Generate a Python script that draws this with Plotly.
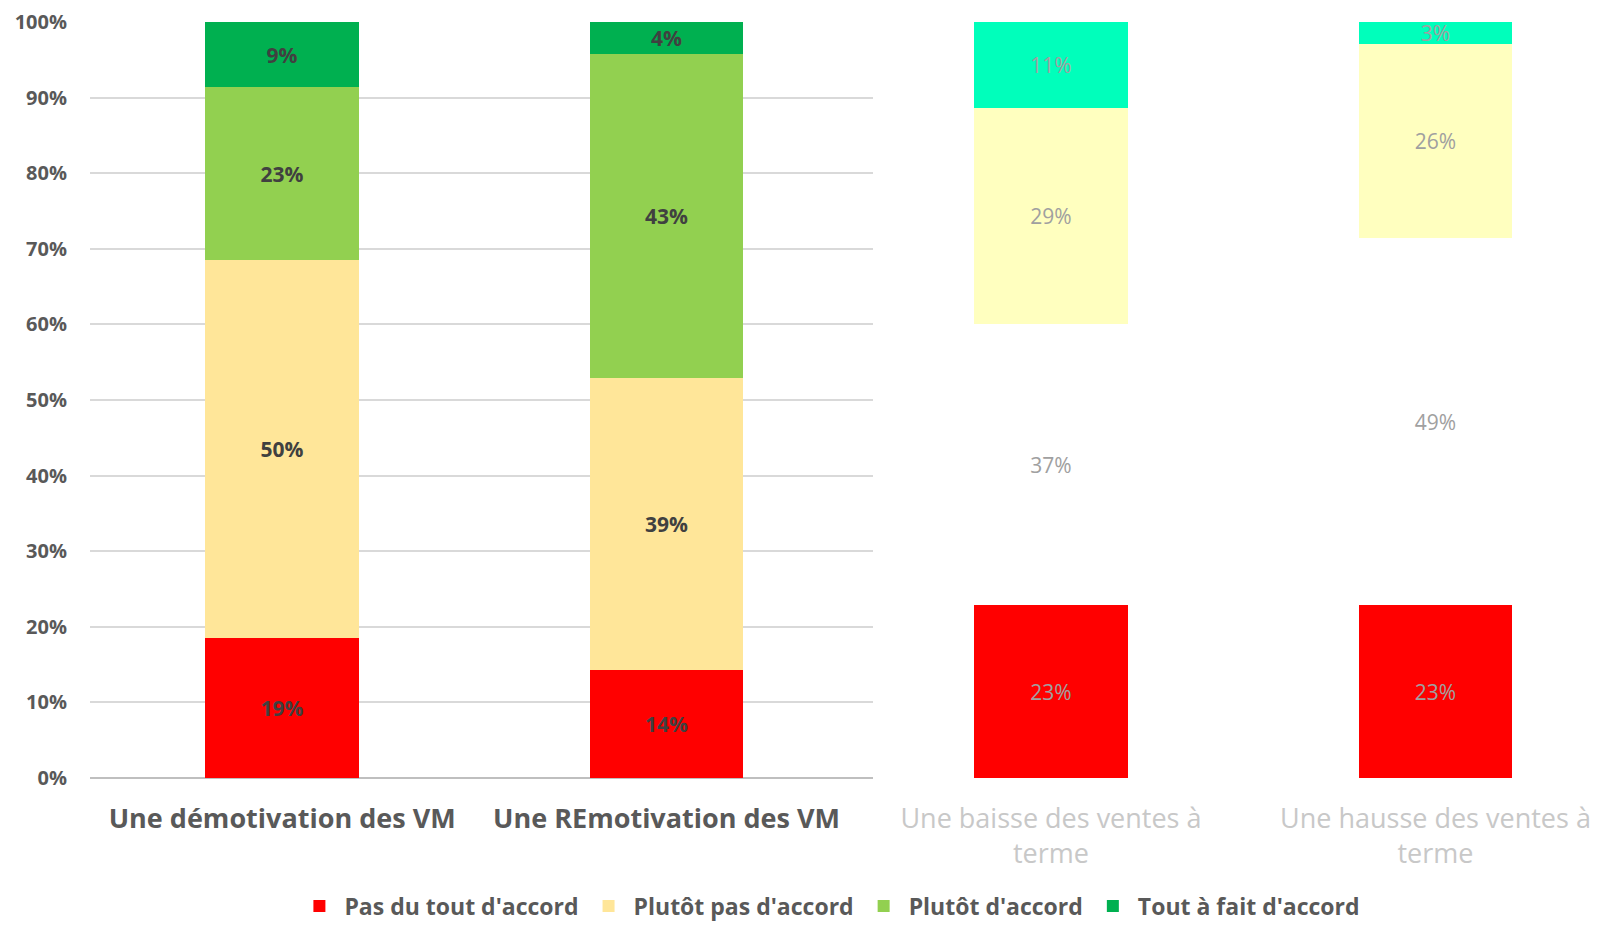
import plotly.graph_objects as go

# values (percent of respondents)
categories = ["Une démotivation des VM", "Une REmotivation des VM",
              "Une baisse des ventes à<br>terme", "Une hausse des ventes à<br>terme"]
series = ["Pas du tout d'accord", "Plutôt pas d'accord", "Plutôt d'accord", "Tout à fait d'accord"]
pas_du_tout = [18.57, 14.29, 22.86, 22.86]
plutot_pas = [50.0, 38.57, 37.14, 48.57]
plutot = [22.86, 42.86, 28.57, 25.71]
tout_a_fait = [8.57, 4.29, 11.43, 2.86]
y_ticks = [0, 10, 20, 30, 40, 50, 60, 70, 80, 90, 100]
y_tick_labels = ["0%", "10%", "20%", "30%", "40%", "50%", "60%", "70%", "80%", "90%", "100%"]

colors_left = ["#FF0000", "#FFE699", "#92D050", "#00B050"]
colors_right = ["#FF0000", "#FFFFFF", "#FFFFBF", "#00FFBB"]

FONT = "Open Sans"
values = [pas_du_tout, plutot_pas, plutot, tout_a_fait]
x_pos = list(range(len(categories)))

fig = go.Figure()

# left half: the two "motivation" bars, in full colour
for name, vals, col in zip(series, values, colors_left):
    fig.add_trace(go.Bar(
        x=x_pos[:2], y=vals[:2], name=name,
        marker=dict(color=col, line=dict(width=0)),
        width=0.4,
        texttemplate="%{y:.0f}%", textposition="inside", insidetextanchor="middle",
        textangle=0, constraintext="none",
        textfont=dict(family=FONT, size=21, color="#404040", weight="bold"),
        xaxis="x", yaxis="y",
    ))

# right half: faded "ventes" bars
for name, vals, col in zip(series, values, colors_right):
    fig.add_trace(go.Bar(
        x=x_pos[2:], y=vals[2:], name=name, showlegend=False,
        marker=dict(color=col, line=dict(width=0)),
        width=0.4,
        texttemplate="%{y:.0f}%", textposition="inside", insidetextanchor="middle",
        textangle=0, constraintext="none",
        textfont=dict(family=FONT, size=21, color="#A0A0A0"),
        xaxis="x2", yaxis="y2",
    ))

# the page body adds an 8px offset, so the figure is 8px smaller
split = 0.5185
fig.update_layout(
    width=1592, height=917,
    margin=dict(l=82, r=0, t=14, b=147, autoexpand=False),
    paper_bgcolor="white", plot_bgcolor="white",
    barmode="stack", bargap=0,
    font=dict(family=FONT, color="#595959"),
    xaxis=dict(
        domain=[0, split], range=[-0.5, 1.537],
        tickvals=x_pos[:2], ticktext=categories[:2],
        tickfont=dict(family=FONT, size=27, color="#595959", weight="bold"),
        ticks="", ticklabelstandoff=22,
        showgrid=False, zeroline=False, showline=False,
    ),
    xaxis2=dict(
        domain=[split, 1], range=[1.537, 3.428],
        tickvals=x_pos[2:], ticktext=categories[2:],
        tickfont=dict(family=FONT, size=27, color="#C8C8C8"),
        ticks="", ticklabelstandoff=22,
        showgrid=False, zeroline=False, showline=False,
    ),
    yaxis=dict(
        range=[0, 100], tickvals=y_ticks, ticktext=y_tick_labels,
        tickfont=dict(family=FONT, size=20, color="#595959", weight="bold"),
        showgrid=True, gridcolor="#D9D9D9", gridwidth=1.5,
        zeroline=True, zerolinecolor="#BFBFBF", zerolinewidth=2,
        ticks="", ticklabelstandoff=22, showline=False,
    ),
    yaxis2=dict(
        range=[0, 100], anchor="x2", showgrid=False, zeroline=False,
        showticklabels=False, showline=False,
    ),
    legend=dict(
        orientation="h", x=0.49, xanchor="center", y=-0.141, yanchor="top",
        font=dict(family=FONT, size=23, color="#595959", weight="bold"),
        traceorder="normal", itemwidth=40,
    ),
)

fig.write_html("out.html")
